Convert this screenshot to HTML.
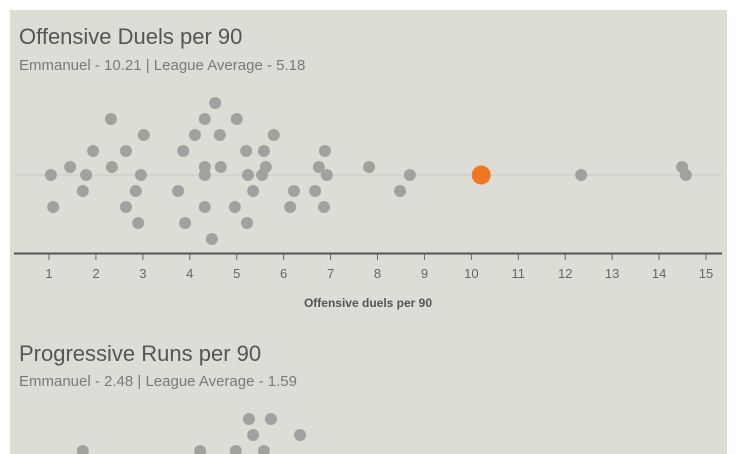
<!DOCTYPE html>
<html><head><meta charset="utf-8"><style>
body{margin:0;background:#fff;width:736px;height:454px;overflow:hidden;font-family:"Liberation Sans",sans-serif}
#panel{position:absolute;left:10px;top:10px;width:717px;height:444px;background:#dddcd5}
.t{position:absolute;left:19px;color:#555;font-size:22px;white-space:nowrap}
.s{position:absolute;left:19px;color:#7a7a7a;font-size:15px;white-space:nowrap}
svg{position:absolute;left:0;top:0}
</style></head><body>
<div id="panel"></div>
<div class="t" style="top:24px">Offensive Duels per 90</div>
<div class="s" style="top:57px">Emmanuel - 10.21 | League Average - 5.18</div>
<div class="t" style="top:341px">Progressive Runs per 90</div>
<div class="s" style="top:373px">Emmanuel - 2.48 | League Average - 1.59</div>
<svg id="c" width="736" height="454"></svg>
<script>
const values=[1.04,1.09,1.45,1.79,1.72,1.94,2.32,2.34,2.64,2.64,3.02,2.96,2.85,2.9,3.86,3.75,3.9,4.11,4.32,4.54,4.32,4.32,4.64,4.66,4.32,4.47,5.0,4.96,5.2,5.24,5.35,5.22,5.58,5.62,5.54,5.79,6.22,6.14,6.67,6.75,6.88,6.92,6.86,7.82,8.69,8.48,12.34,14.49,14.57];
const jitter=[0,2,-0.5,0,1,-1.5,-3.5,-0.5,-1.5,2,-2.5,0,1,3,-1.5,1,3,-2.5,-3.5,-4.5,-0.5,0,-2.5,-0.5,2,4,-3.5,2,-1.5,0,1,3,-1.5,-0.5,0,-2.5,1,2,1,-0.5,-1.5,0,2,-0.5,0,1,0,-0.5,0];
const highlight=[10.21];
const ticks=[1,2,3,4,5,6,7,8,9,10,11,12,13,14,15];
const values2=[5.26,5.73,5.35,6.35,1.72,4.22,4.98,5.58];
const jitter2=[-2,-2,-1,-1,0,0,0,0];
const NS="http://www.w3.org/2000/svg",svg=document.getElementById('c');
const x=v=>49+(v-1)*46.93, y=j=>175+j*16;
const y2=j=>451+j*16;
function el(t,a){const e=document.createElementNS(NS,t);for(const k in a)e.setAttribute(k,a[k]);svg.appendChild(e);return e;}
let l=el('line',{x1:14,x2:722,y1:175,y2:175,stroke:'#ccccc6','stroke-width':1});


values.forEach((v,i)=>{const c=el('circle',{cx:x(v),cy:y(jitter[i]),r:6,fill:'#a1a1a0'});

});
highlight.forEach(v=>{const c=el('circle',{cx:x(v),cy:y(0),r:9.5,fill:'#f07623'});

});
let ax=el('line',{x1:14,x2:722,y1:253.5,y2:253.5,stroke:'#555','stroke-width':2});


ticks.forEach(t=>{const k=el('line',{x1:x(t),x2:x(t),y1:254,y2:260,stroke:'#666'});


const tx=el('text',{x:x(t),y:278,'text-anchor':'middle','font-size':13,fill:'#666','font-family':'Liberation Sans, sans-serif'});tx.textContent=t;

});
const at=el('text',{x:368,y:307,'text-anchor':'middle','font-size':12,'font-weight':'bold',fill:'#555','font-family':'Liberation Sans, sans-serif'});at.textContent='Offensive duels per 90';


values2.forEach((v,i)=>{const c=el('circle',{cx:x(v),cy:y2(jitter2[i]),r:6,fill:'#a1a1a0'});

});
</script>
</body></html>
